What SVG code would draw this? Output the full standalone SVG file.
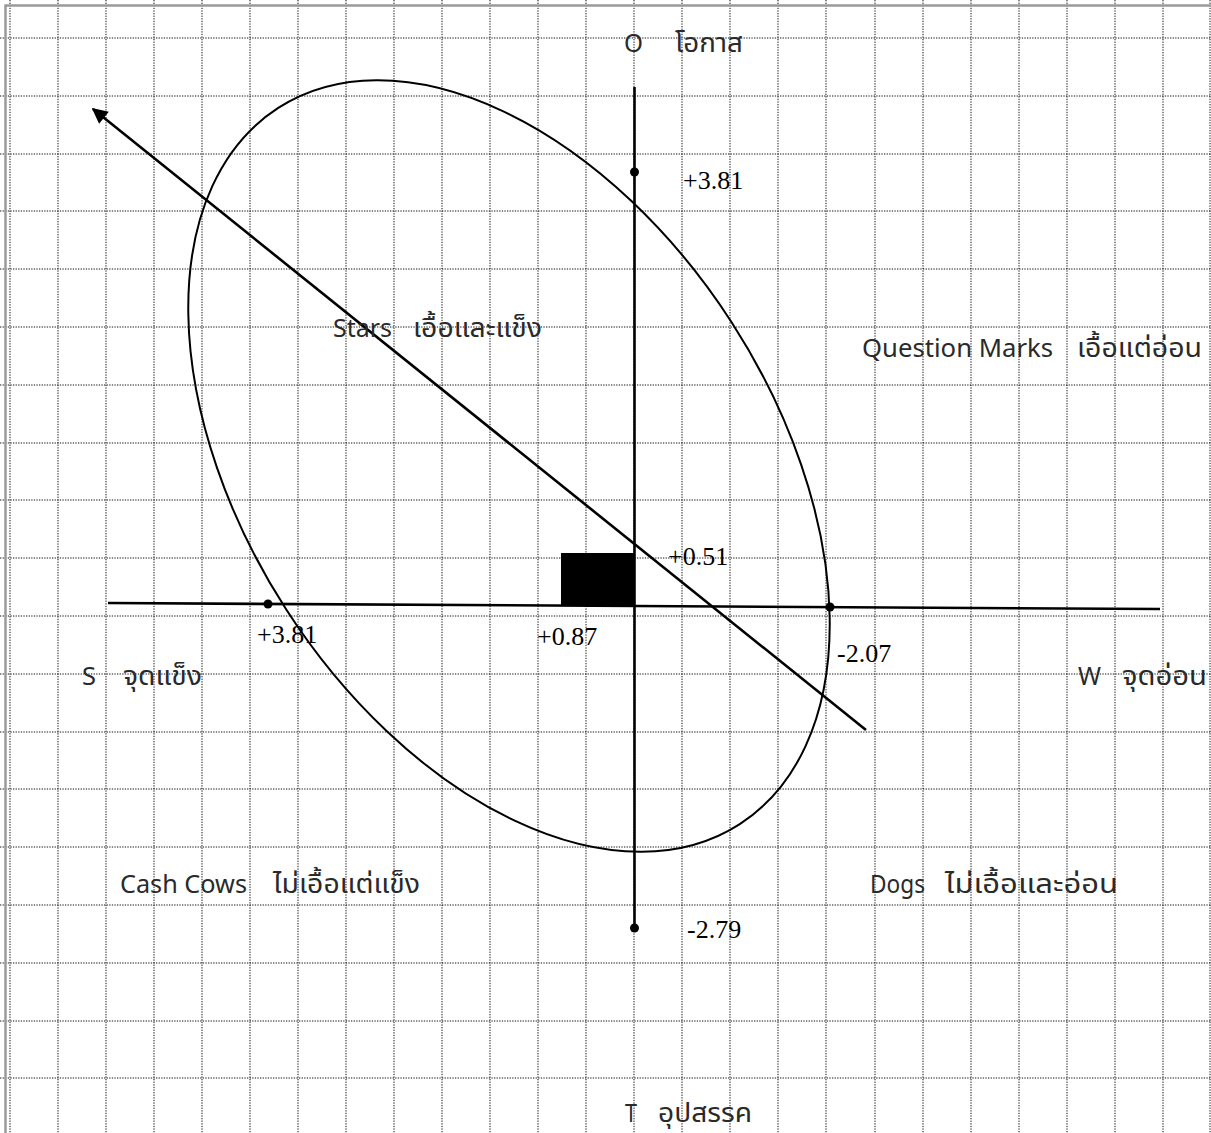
<svg xmlns="http://www.w3.org/2000/svg" width="1211" height="1133" viewBox="0 0 1211 1133">
<defs>
<style>
.grid line{stroke:#111;stroke-width:1;stroke-dasharray:1.3 1.3}
.ax{stroke:#000;stroke-width:2.6;fill:none}
.ell{stroke:#000;stroke-width:2;fill:none}
.num{font-family:"Liberation Serif","Times New Roman",serif;font-size:26px;fill:#000}
.lbl{font-family:"Noto Sans Thai","Noto Sans","DejaVu Sans",sans-serif;font-size:26px;fill:#2a2a2a}
</style>
<marker id="ah" viewBox="0 0 10 10" refX="9" refY="5" markerWidth="7" markerHeight="6" markerUnits="strokeWidth" orient="auto">
<path d="M0,0 L10,5 L0,10 Z" fill="#000"/>
</marker>
</defs>
<rect width="1211" height="1133" fill="#fff"/>
<g class="grid" id="grid">
<line x1="10" y1="0" x2="10" y2="1133"/><line x1="58" y1="0" x2="58" y2="1133"/><line x1="106" y1="0" x2="106" y2="1133"/><line x1="154" y1="0" x2="154" y2="1133"/><line x1="202" y1="0" x2="202" y2="1133"/><line x1="250" y1="0" x2="250" y2="1133"/><line x1="298" y1="0" x2="298" y2="1133"/><line x1="346" y1="0" x2="346" y2="1133"/><line x1="394" y1="0" x2="394" y2="1133"/><line x1="442" y1="0" x2="442" y2="1133"/><line x1="490" y1="0" x2="490" y2="1133"/><line x1="538" y1="0" x2="538" y2="1133"/><line x1="586" y1="0" x2="586" y2="1133"/><line x1="634" y1="0" x2="634" y2="1133"/><line x1="682" y1="0" x2="682" y2="1133"/><line x1="730" y1="0" x2="730" y2="1133"/><line x1="778" y1="0" x2="778" y2="1133"/><line x1="826" y1="0" x2="826" y2="1133"/><line x1="875" y1="0" x2="875" y2="1133"/><line x1="923" y1="0" x2="923" y2="1133"/><line x1="971" y1="0" x2="971" y2="1133"/><line x1="1019" y1="0" x2="1019" y2="1133"/><line x1="1067" y1="0" x2="1067" y2="1133"/><line x1="1115" y1="0" x2="1115" y2="1133"/><line x1="1163" y1="0" x2="1163" y2="1133"/><line x1="1210" y1="0" x2="1210" y2="1133"/>
<line x1="0" y1="38" x2="1211" y2="38"/><line x1="0" y1="96" x2="1211" y2="96"/><line x1="0" y1="154" x2="1211" y2="154"/><line x1="0" y1="211" x2="1211" y2="211"/><line x1="0" y1="269" x2="1211" y2="269"/><line x1="0" y1="327" x2="1211" y2="327"/><line x1="0" y1="385" x2="1211" y2="385"/><line x1="0" y1="443" x2="1211" y2="443"/><line x1="0" y1="500" x2="1211" y2="500"/><line x1="0" y1="558" x2="1211" y2="558"/><line x1="0" y1="616" x2="1211" y2="616"/><line x1="0" y1="674" x2="1211" y2="674"/><line x1="0" y1="732" x2="1211" y2="732"/><line x1="0" y1="789" x2="1211" y2="789"/><line x1="0" y1="847" x2="1211" y2="847"/><line x1="0" y1="905" x2="1211" y2="905"/><line x1="0" y1="963" x2="1211" y2="963"/><line x1="0" y1="1021" x2="1211" y2="1021"/><line x1="0" y1="1078" x2="1211" y2="1078"/>
</g>
<path d="M5.5,1133 V5.5 H1211" stroke="#9a9a9a" stroke-width="2.5" fill="none"/>
<g id="connectors">
<line id="axis-ot" class="ax" x1="634.5" y1="87" x2="634.5" y2="928"/>
<line id="axis-sw" class="ax" x1="108" y1="603" x2="1160" y2="609"/>
<line id="strategy-arrow" class="ax" x1="866" y1="730" x2="93" y2="109" marker-end="url(#ah)"/>
<ellipse id="ellipse" class="ell" cx="509" cy="466" rx="426" ry="265" transform="rotate(57.2 509 466)"/>
</g>
<g id="points" fill="#000">
<circle cx="634.5" cy="172" r="4.5"/>
<circle cx="634.5" cy="928" r="4.5"/>
<circle cx="268" cy="604" r="4.5"/>
<circle cx="830" cy="607" r="4.5"/>
</g>
<g id="center-box"><rect x="561" y="553" width="73" height="53" fill="#000"/></g>
<g id="value-labels" class="num">
<text x="683" y="189">+3.81</text>
<text x="668" y="565">+0.51</text>
<text x="257" y="643">+3.81</text>
<text x="537" y="645">+0.87</text>
<text x="837" y="662">-2.07</text>
<text x="687" y="938">-2.79</text>
</g>
<g id="axis-labels" class="lbl">
<g id="label-o"><text x="624" y="52" textLength="19" lengthAdjust="spacingAndGlyphs">O</text><text x="675" y="52" textLength="68" lengthAdjust="spacingAndGlyphs">โอกาส</text></g>
<g id="label-t"><text x="625" y="1122" textLength="12" lengthAdjust="spacingAndGlyphs">T</text><text x="658" y="1122" textLength="94" lengthAdjust="spacingAndGlyphs">อุปสรรค</text></g>
<g id="label-s"><text x="82" y="685" textLength="14" lengthAdjust="spacingAndGlyphs">S</text><text x="123" y="685" textLength="79" lengthAdjust="spacingAndGlyphs">จุดแข็ง</text></g>
<g id="label-w"><text x="1078" y="685" textLength="23" lengthAdjust="spacingAndGlyphs">W</text><text x="1122" y="685" textLength="85" lengthAdjust="spacingAndGlyphs">จุดอ่อน</text></g>
</g>
<g id="quadrant-labels" class="lbl">
<g id="stars"><text x="333" y="337" textLength="59" lengthAdjust="spacingAndGlyphs">Stars</text><text x="413" y="337" textLength="129" lengthAdjust="spacingAndGlyphs">เอื้อและแข็ง</text></g>
<g id="question-marks"><text x="862" y="357" textLength="191" lengthAdjust="spacingAndGlyphs">Question Marks</text><text x="1077" y="357" textLength="125" lengthAdjust="spacingAndGlyphs">เอื้อแต่อ่อน</text></g>
<g id="cash-cows"><text x="120" y="893" textLength="127" lengthAdjust="spacingAndGlyphs">Cash Cows</text><text x="273" y="893" textLength="147" lengthAdjust="spacingAndGlyphs">ไม่เอื้อแต่แข็ง</text></g>
<g id="dogs"><text x="870" y="893" textLength="55" lengthAdjust="spacingAndGlyphs">Dogs</text><text x="945" y="893" textLength="173" lengthAdjust="spacingAndGlyphs">ไม่เอื้อและอ่อน</text></g>
</g>
</svg>
